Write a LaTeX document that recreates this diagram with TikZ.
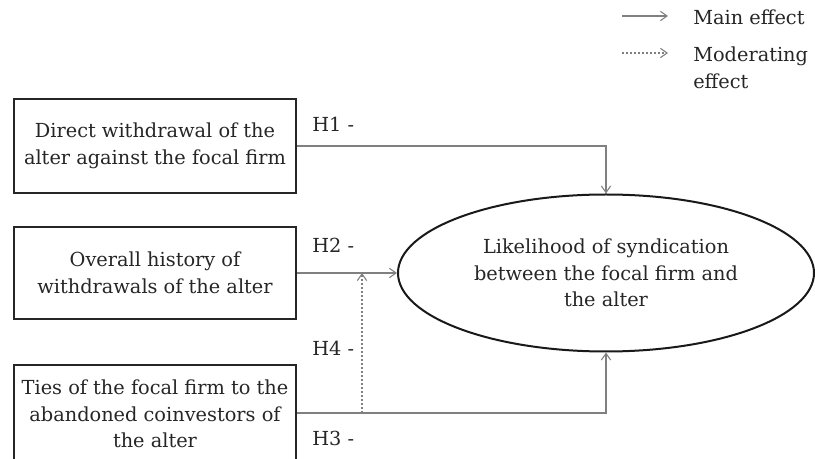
\documentclass[tikz,border=0pt]{standalone}
\usepackage{fontspec}
\setmainfont{DejaVu Serif}
\usetikzlibrary{arrows.meta,shapes.geometric,calc}
\begin{document}
\begin{tikzpicture}[x=0.75pt,y=-0.75pt,
  txt/.style={font=\fontsize{14.5}{20}\selectfont, text=black!85},
  box/.style={txt, draw=black!85, line width=1.7pt, minimum width=282*0.75pt, align=center, inner sep=0pt},
  ell/.style={txt, ellipse, draw=black!90, line width=1.5pt, minimum width=416*0.75pt, minimum height=157*0.75pt, align=center, inner sep=0pt},
  main/.style={draw=black!50, line width=0.9pt, -{Straight Barb[length=5pt,width=7pt,line width=0.8pt]}},
  mod/.style={main, dash pattern=on 1.5pt off 1.5pt},
  lab/.style={txt, anchor=west, inner sep=0pt}]
\clip (0,0) rectangle (815,459);
\fill[white] (0,0) rectangle (815,459);
% boxes
\node[box, minimum height=94*0.75pt] (b1) at (155,146) {Direct withdrawal of the\\alter against the focal firm};
\node[box, minimum height=92*0.75pt] (b2) at (155,273) {Overall history of\\withdrawals of the alter};
\node[box, minimum height=98*0.75pt] (b3) at (155,414) {Ties of the focal firm to the\\abandoned coinvestors of\\the alter};
\node[ell] (e) at (606,273) {Likelihood of syndication\\between the focal firm and\\the alter};
% connectors
\coordinate (h3y) at (0,413);
\draw[main] (b1.east) -| (e.north);
\draw[main] (b2.east) -- (e.west);
\draw[main] (b3.east |- h3y) -| (e.south);
\coordinate (mt) at (362,273);
\draw[mod] (mt |- h3y) -- (mt);
% labels
\node[lab] (h1) at (312,124) {H1 -};
\node[lab] (h2) at (312,245) {H2 -};
\node[lab] (h4) at (312,348) {H4 -};
\node[lab] (h3) at (312,438) {H3 -};
% legend
\coordinate (l1s) at (622,16); \coordinate (l1e) at (668,16);
\coordinate (l2s) at (622,53); \coordinate (l2e) at (668,53);
\draw[main] (l1s) -- (l1e);
\draw[mod] (l2s) -- (l2e);
\node[lab] (lm) at (693,17) {Main effect};
\node[txt, anchor=north west, align=left, inner sep=0pt] (lmod) at (693,47) {Moderating\\effect};
\end{tikzpicture}
\end{document}
